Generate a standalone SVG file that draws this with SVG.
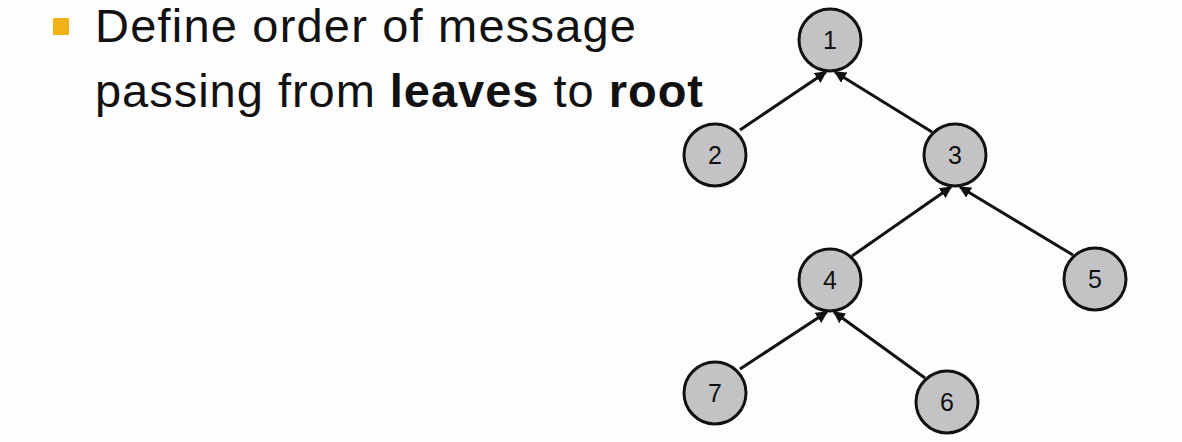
<svg xmlns="http://www.w3.org/2000/svg" width="1182" height="442" viewBox="0 0 1182 442">
<defs>
<style>
.t{font-family:"Liberation Sans",Arial,sans-serif;font-size:47px;fill:#111}
.b{font-weight:bold}
.n circle{fill:#c3c3c6;stroke:#111;stroke-width:3}
.n text{font-family:"Liberation Sans",Arial,sans-serif;font-size:25px;fill:#111;text-anchor:middle}
.e line{stroke:#111;stroke-width:3;marker-end:url(#ah)}
</style>
<marker id="ah" viewBox="0 0 10 10" refX="9" refY="5" markerWidth="4" markerHeight="4" orient="auto" markerUnits="strokeWidth">
<path d="M0,0 L10,5 L0,10 z" fill="#111"/>
</marker>
</defs>
<rect width="1182" height="442" fill="#fdfdfd"/>
<rect x="53" y="18" width="16" height="17" fill="#f0b214"/>
<text class="t" x="95" y="42" textLength="541" lengthAdjust="spacing">Define order of message</text>
<text class="t" x="95" y="107" textLength="608" lengthAdjust="spacing">passing from <tspan class="b">leaves</tspan> to <tspan class="b">root</tspan></text>
<g class="e" id="edges">
<line x1="740" y1="130" x2="826" y2="72"/>
<line x1="932" y1="132" x2="835" y2="72"/>
<line x1="852" y1="256" x2="951" y2="187"/>
<line x1="1073" y1="255" x2="960" y2="187"/>
<line x1="740" y1="369" x2="827" y2="312"/>
<line x1="925" y1="378" x2="834" y2="312"/>
</g>
<g class="n" id="n1"><circle cx="830" cy="40" r="31"/><text x="830" y="49">1</text></g>
<g class="n" id="n2"><circle cx="715" cy="155" r="31"/><text x="715" y="164">2</text></g>
<g class="n" id="n3"><circle cx="955" cy="155" r="31"/><text x="955" y="164">3</text></g>
<g class="n" id="n4"><circle cx="830" cy="280" r="31"/><text x="830" y="289">4</text></g>
<g class="n" id="n5"><circle cx="1095" cy="279" r="31"/><text x="1095" y="288">5</text></g>
<g class="n" id="n6"><circle cx="947" cy="402" r="31"/><text x="947" y="411">6</text></g>
<g class="n" id="n7"><circle cx="715" cy="393" r="31"/><text x="715" y="402">7</text></g>
</svg>
